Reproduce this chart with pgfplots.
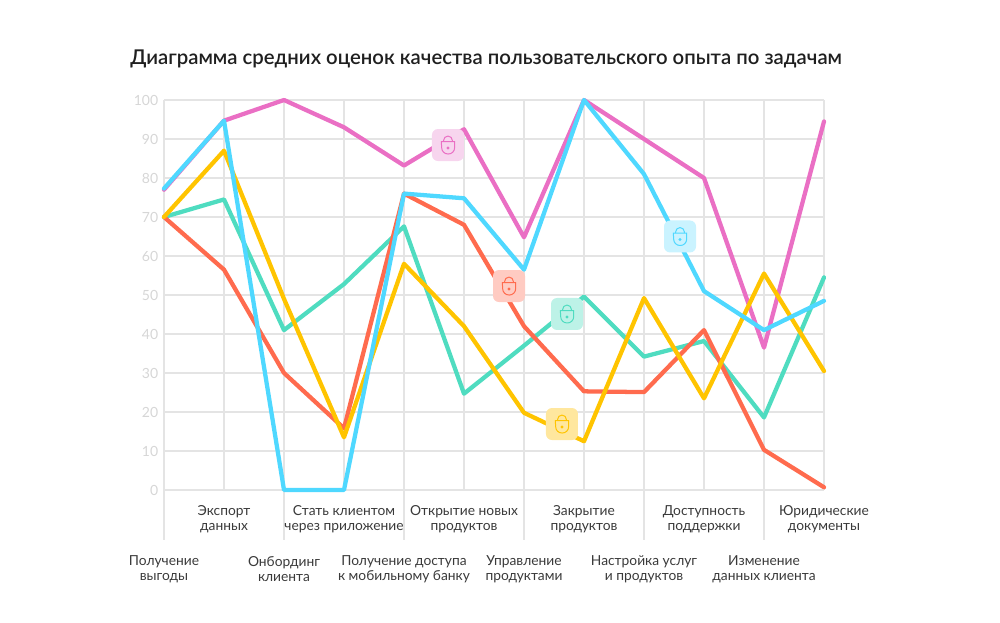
\documentclass[border=0pt]{standalone}
\usepackage{fontspec}
\setmainfont{Lato}
\newfontfamily\titlefont{Lato Semibold}
\usepackage{pgfplots}
\usepackage{pgfplotstable}
\pgfplotsset{compat=1.18}

\definecolor{cpink}{HTML}{EA6FC4}
\definecolor{cblue}{HTML}{4FD8FF}
\definecolor{cred}{HTML}{FF6B4E}
\definecolor{cgreen}{HTML}{4FDCC0}
\definecolor{cyellow}{HTML}{FFC400}
\definecolor{bpink}{HTML}{F7D5EE}
\definecolor{bblue}{HTML}{CAF3FF}
\definecolor{bred}{HTML}{FFCBC2}
\definecolor{bgreen}{HTML}{BDF2E7}
\definecolor{byellow}{HTML}{FFE79E}
\definecolor{gridc}{HTML}{E4E4E4}
\definecolor{numc}{HTML}{D6D6D6}
\definecolor{labc}{HTML}{3A3A3A}

% lock badge as a plot mark: 32px rounded square with a padlock, 1px = 0.75pt
\newcommand{\declarelock}[3]{%
  \pgfdeclareplotmark{#1}{%
    \pgfsetfillcolor{#2}%
    \pgfpathmoveto{\pgfpoint{-7.5pt}{-12pt}}%
    \pgfpathlineto{\pgfpoint{7.5pt}{-12pt}}%
    \pgfpatharc{270}{360}{4.5pt}%
    \pgfpathlineto{\pgfpoint{12pt}{7.5pt}}%
    \pgfpatharc{0}{90}{4.5pt}%
    \pgfpathlineto{\pgfpoint{-7.5pt}{12pt}}%
    \pgfpatharc{90}{180}{4.5pt}%
    \pgfpathlineto{\pgfpoint{-12pt}{-7.5pt}}%
    \pgfpatharc{180}{270}{4.5pt}%
    \pgfpathclose
    \pgfusepathqfill
    \pgfsetstrokecolor{#3}%
    \pgfsetlinewidth{0.75pt}%
    \pgfpathmoveto{\pgfpoint{-3.3pt}{2.5pt}}%
    \pgfpathlineto{\pgfpoint{-3.3pt}{3.4pt}}%
    \pgfpatharc{180}{0}{3.3pt}%
    \pgfpathlineto{\pgfpoint{3.3pt}{2.5pt}}%
    \pgfusepathqstroke
    \pgfpathmoveto{\pgfpoint{-5pt}{2.5pt}}%
    \pgfpathlineto{\pgfpoint{5pt}{2.5pt}}%
    \pgfpathlineto{\pgfpoint{5pt}{-2pt}}%
    \pgfpatharc{0}{-90}{4.75pt}%
    \pgfpathlineto{\pgfpoint{0pt}{-6.75pt}}%
    \pgfpatharc{270}{180}{4.75pt}%
    \pgfpathclose
    \pgfusepathqstroke
    \pgfsetfillcolor{#3}%
    \pgfpathcircle{\pgfpoint{0pt}{-2.25pt}}{1.25pt}%
    \pgfusepathqfill
  }%
}
\declarelock{lockpink}{bpink}{cpink}
\declarelock{lockblue}{bblue}{cblue}
\declarelock{lockred}{bred}{cred}
\declarelock{lockgreen}{bgreen}{cgreen}
\declarelock{lockyellow}{byellow}{cyellow}

\pgfplotstableread{
i  pink  blue  red   green yellow
0  77.0  77.3  70.0  70.0  70.0
1  94.7  94.7  56.5  74.5  87.0
2  100   0     30.0  41.0  49.0
3  93.0  0     15.8  52.8  13.5
4  83.2  76.0  76.0  67.6  58.0
5  92.5  74.8  68.0  24.7  42.0
6  64.8  56.5  42.0  37.0  19.8
7  100   100   25.3  49.6  12.5
8  90.0  81.0  25.1  34.2  49.2
9  80.0  51.0  41.0  38.2  23.5
10 36.5  41.0  10.3  18.6  55.5
11 94.5  48.5  0.7   54.5  30.5
}\uxdata

\pgfplotsset{series/.style={#1,line width=3.2pt,line join=round,line cap=round,no markers}}

\begin{document}
\begin{tikzpicture}
\path[use as bounding box] (0pt,0pt) rectangle (750pt,466.5pt);
\node[anchor=west,inner sep=0pt,text=black!88] at (97.5pt,422.5pt)
  {\titlefont\fontsize{15.25}{17}\selectfont Диаграмма средних оценок качества пользовательского опыта по задачам};
\begin{axis}[
  at = {(123pt,99pt)},
  anchor = south west,
  scale only axis,
  width = 495pt,
  height = 292.5pt,
  clip = false,
  xmin = 0,
  xmax = 11,
  ymin = 0,
  ymax = 100,
  ytick = {0,10,...,100},
  axis line style = {draw=none},
  /pgf/number format/assume math mode=true,
  yticklabel style = {text=numc,font=\fontsize{10.5}{12}\selectfont,xshift=36.7pt},
  y tick style = {draw=none},
  ytick pos = left,
  xtick pos = bottom,
  grid = major,
  major grid style = {gridc,line width=1.2pt},
  y grid style = {gridc,line width=1pt},
  tick align = outside,
  xtick = {0,2,4,6,8,10},
  xticklabels = {{Получение\\выгоды},{Онбординг\\клиента},{Получение доступа\\к мобильному банку},{Управление\\продуктами},{Настройка услуг\\и продуктов},{Изменение\\данных клиента}},
  x tick style = {gridc,line width=1.2pt},
  major tick length = 37.5pt,
  xticklabel style = {align=center,text=labc,font=\fontsize{10.35}{11.25}\selectfont,yshift=-8.5pt},
  extra x ticks = {1,3,5,7,9,11},
  extra x tick labels = {{Экспорт\\данных},{Стать клиентом\\через приложение},{Открытие новых\\продуктов},{Закрытие\\продуктов},{Доступность\\поддержки},{Юридические\\документы}},
  extra x tick style = {
    major tick length = 0pt,
    xticklabel style = {yshift=0.25pt},
  },
]
\addplot [series=cpink] table [x=i,y=pink] {\uxdata};
\addplot [series=cgreen] table [x=i,y=green] {\uxdata};
\addplot [series=cred] table [x=i,y=red] {\uxdata};
\addplot [series=cyellow] table [x=i,y=yellow] {\uxdata};
\addplot [series=cblue] table [x=i,y=blue] {\uxdata};
% badges
\addplot [only marks,mark=lockpink] coordinates {(4.733,88.46)};
\addplot [only marks,mark=lockred] coordinates {(5.75,52.3)};
\addplot [only marks,mark=lockgreen] coordinates {(6.717,45.13)};
\addplot [only marks,mark=lockyellow] coordinates {(6.633,16.92)};
\addplot [only marks,mark=lockblue] coordinates {(8.6,65.0)};
\end{axis}
\end{tikzpicture}
\end{document}
